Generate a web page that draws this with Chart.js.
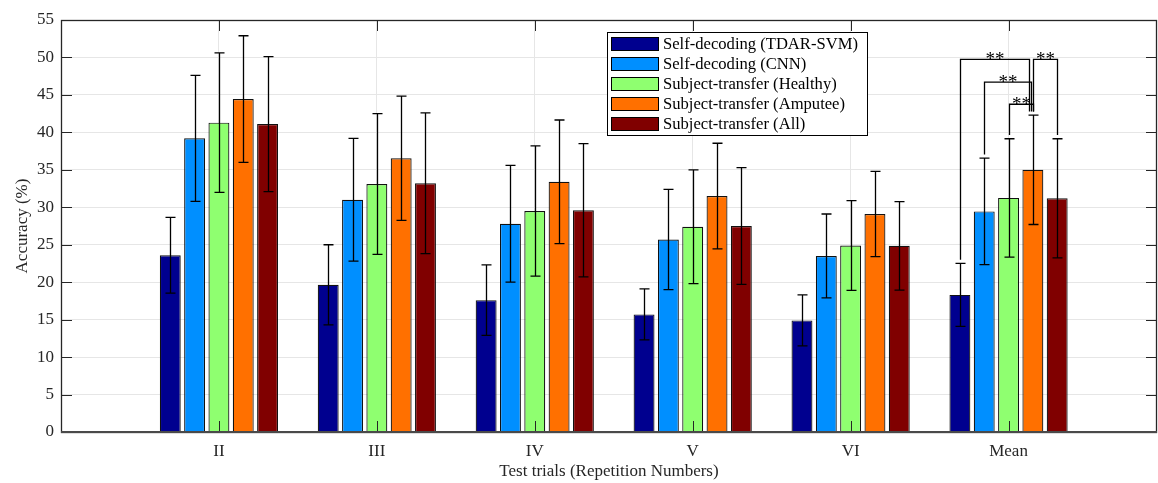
<!DOCTYPE html>
<html>
<head>
<meta charset="utf-8">
<script src="https://cdn.jsdelivr.net/npm/chart.js@4/dist/chart.umd.min.js"></script>
<style>
  html, body { margin: 0; padding: 0; background: #fff; overflow: hidden; }
  #wrap { width: 1158px; height: 483px; }
</style>
</head>
<body>
<div id="wrap"><canvas id="barChart" width="1158" height="483"></canvas></div>
<script>
const trialLabels = ['II', 'III', 'IV', 'V', 'VI', 'Mean'];
const seriesNames = ['Self-decoding (TDAR-SVM)', 'Self-decoding (CNN)', 'Subject-transfer (Healthy)', 'Subject-transfer (Amputee)', 'Subject-transfer (All)'];
const seriesColors = ['#00008F', '#008FFF', '#8FFF70', '#FF7000', '#800000'];

const tdarMean = [23.6, 19.65, 17.6, 15.7, 14.9, 18.3];
const tdarStd = [5.05, 5.35, 4.7, 3.4, 3.4, 4.2];
const cnnMean = [39.2, 31.0, 27.8, 25.7, 23.5, 29.45];
const cnnStd = [8.4, 8.2, 7.8, 6.7, 5.6, 7.1];
const healthyMean = [41.3, 33.1, 29.5, 27.4, 24.9, 31.25];
const healthyStd = [9.3, 9.4, 8.7, 7.6, 6.0, 7.9];
const amputeeMean = [44.45, 36.55, 33.4, 31.5, 29.1, 35.0];
const amputeeStd = [8.45, 8.3, 8.25, 7.05, 5.7, 7.3];
const allMean = [41.1, 33.2, 29.6, 27.5, 24.85, 31.2];
const allStd = [9.0, 9.4, 8.9, 7.8, 5.9, 7.95];

const yTicks = [0, 5, 10, 15, 20, 25, 30, 35, 40, 45, 50, 55];

// significance brackets on the Mean group: [from series, to series], bracket height, label
const sigPairs = [[0, 3], [1, 3], [2, 3], [4, 3]];
const sigLevels = [49.75, 46.7, 43.75, 49.75];
const sigLabels = ['**', '**', '**', '**'];

const means = [tdarMean, cnnMean, healthyMean, amputeeMean, allMean];
const stds = [tdarStd, cnnStd, healthyStd, amputeeStd, allStd];

const FONT = "'Liberation Serif', 'Times New Roman', serif";
const AXIS = '#262626';

const errorBars = {
  id: 'errorBars',
  afterDatasetsDraw(chart) {
    const ctx = chart.ctx;
    const y = chart.scales.y;
    ctx.save();
    ctx.strokeStyle = '#000';
    ctx.lineWidth = 1.3;
    means.forEach((m, d) => {
      chart.getDatasetMeta(d).data.forEach((bar, i) => {
        const top = y.getPixelForValue(m[i] + stds[d][i]);
        const bot = y.getPixelForValue(m[i] - stds[d][i]);
        const x = Math.round(bar.x) + 0.5;
        ctx.beginPath();
        ctx.moveTo(x, top); ctx.lineTo(x, bot);
        ctx.moveTo(x - 5, top); ctx.lineTo(x + 5, top);
        ctx.moveTo(x - 5, bot); ctx.lineTo(x + 5, bot);
        ctx.stroke();
      });
    });

    // brackets
    const g = trialLabels.length - 1;
    ctx.font = '19px ' + FONT;
    ctx.fillStyle = '#000';
    ctx.textAlign = 'center';
    ctx.textBaseline = 'alphabetic';
    sigPairs.forEach(([a, b], k) => {
      const barA = chart.getDatasetMeta(a).data[g];
      const barB = chart.getDatasetMeta(b).data[g];
      const ly = y.getPixelForValue(sigLevels[k]);
      const xa = Math.round(barA.x) + 0.5;
      const shift = a < b ? (b - a - 1) * 2 : 0;
      const xb = Math.round(barB.x) + 0.5 - shift;
      const ya = y.getPixelForValue(means[a][g] + stds[a][g] + 0.5);
      const yb = y.getPixelForValue(means[b][g] + stds[b][g] + 0.5);
      ctx.beginPath();
      ctx.moveTo(xa, ya); ctx.lineTo(xa, ly); ctx.lineTo(xb, ly); ctx.lineTo(xb, yb);
      ctx.stroke();
      ctx.fillText(sigLabels[k], (xa + xb) / 2, ly + 6);
    });
    ctx.restore();
  }
};

const frame = {
  id: 'frame',
  afterDatasetsDraw(chart) {
    const { ctx, chartArea: a, scales } = chart;
    ctx.save();
    ctx.strokeStyle = AXIS;
    ctx.lineWidth = 1;
    ctx.beginPath();
    yTicks.forEach(v => {
      const py = Math.round(scales.y.getPixelForValue(v)) + 0.5;
      ctx.moveTo(a.left, py); ctx.lineTo(a.left + 11, py);
      ctx.moveTo(a.right, py); ctx.lineTo(a.right - 11, py);
    });
    trialLabels.forEach((_, i) => {
      const px = Math.round(scales.x.getPixelForValue(i + 1)) + 0.5;
      ctx.moveTo(px, a.bottom); ctx.lineTo(px, a.bottom - 11);
      ctx.moveTo(px, a.top); ctx.lineTo(px, a.top + 11);
    });
    ctx.stroke();
    ctx.lineWidth = 1.3;
    ctx.strokeRect(a.left + 0.5, a.top + 0.5, a.right - a.left - 1, a.bottom - a.top);
    ctx.lineWidth = 2;
    ctx.strokeStyle = '#4a4a4a';
    ctx.beginPath();
    ctx.moveTo(a.left, a.bottom); ctx.lineTo(a.right, a.bottom);
    ctx.stroke();
    ctx.restore();
  }
};

const boxLegend = {
  id: 'boxLegend',
  afterDraw(chart) {
    const { ctx, chartArea: a } = chart;
    const lx = a.left + 546, ly = a.top + 12, w = 260, h = 103;
    ctx.save();
    ctx.fillStyle = '#fff';
    ctx.fillRect(lx, ly, w, h);
    ctx.strokeStyle = '#000';
    ctx.lineWidth = 1;
    ctx.strokeRect(lx + 0.5, ly + 0.5, w, h);
    ctx.font = '16.6px ' + FONT;
    ctx.textBaseline = 'middle';
    ctx.textAlign = 'left';
    seriesNames.forEach((name, i) => {
      const cy = ly + 12 + i * 20;
      ctx.fillStyle = seriesColors[i];
      ctx.fillRect(lx + 4, cy - 7, 48, 14);
      ctx.strokeStyle = '#000';
      ctx.strokeRect(lx + 4.5, cy - 6.5, 47, 13);
      ctx.fillStyle = '#000';
      ctx.fillText(name, lx + 56, cy + 1);
    });
    ctx.restore();
  }
};

new Chart(document.getElementById('barChart').getContext('2d'), {
  type: 'bar',
  data: {
    datasets: means.map((m, d) => ({
      label: seriesNames[d],
      data: m.map((v, i) => ({ x: i + 1, y: v })),
      backgroundColor: seriesColors[d],
      borderColor: '#111',
      borderWidth: 1.2,
      categoryPercentage: 0.77,
      barPercentage: 0.86
    }))
  },
  options: {
    responsive: false,
    animation: false,
    layout: { padding: { top: 20, right: 1, left: 0, bottom: 0 } },
    plugins: { legend: { display: false }, tooltip: { enabled: false } },
    scales: {
      x: {
        type: 'linear',
        min: 0,
        max: 6.94,
        offset: false,
        afterBuildTicks: s => { s.ticks = trialLabels.map((_, i) => ({ value: i + 1 })); },
        afterFit: s => { s.height = 51; },
        grid: { color: '#e6e6e6', drawTicks: false, offset: false },
        border: { display: false },
        ticks: {
          autoSkip: false,
          maxRotation: 0,
          padding: 9,
          color: AXIS,
          font: { family: FONT, size: 17 },
          callback: v => trialLabels[v - 1] || ''
        },
        title: {
          display: true,
          text: 'Test trials (Repetition Numbers)',
          color: AXIS,
          font: { family: FONT, size: 17 },
          padding: { top: 0, bottom: 1 }
        }
      },
      y: {
        min: 0,
        max: 55,
        afterBuildTicks: s => { s.ticks = yTicks.map(v => ({ value: v })); },
        afterFit: s => { s.width = 61; },
        grid: { color: '#e6e6e6', drawTicks: false },
        border: { display: false },
        ticks: {
          padding: 7,
          color: AXIS,
          font: { family: FONT, size: 17 }
        },
        title: {
          display: true,
          text: 'Accuracy (%)',
          color: AXIS,
          font: { family: FONT, size: 17 },
          padding: { top: 12, bottom: 0 }
        }
      }
    }
  },
  plugins: [errorBars, frame, boxLegend]
});
</script>
</body>
</html>
